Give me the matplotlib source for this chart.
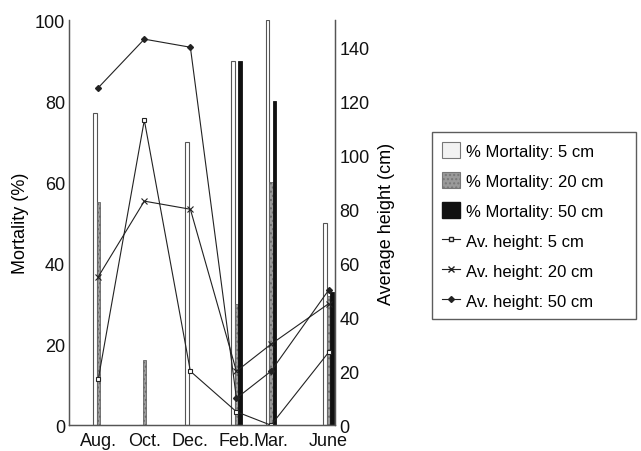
import numpy as np
import matplotlib
matplotlib.use("Agg")
import matplotlib.pyplot as plt
from matplotlib.patches import Patch
from matplotlib.lines import Line2D

plt.rcParams['font.family'] = ['Liberation Sans', 'DejaVu Sans']

# sampling dates, as months after August
months = [0, 2, 4, 6, 7.5, 10]
month_labels = ["Aug.", "Oct.", "Dec.", "Feb.", "Mar.", "June"]

# % mortality per planting size
mort_5 = [77, 0, 70, 90, 100, 50]
mort_20 = [55, 16, 0, 30, 60, 32]
mort_50 = [0, 0, 0, 90, 80, 33]

# average height (cm) per planting size
height_5 = [17, 113, 20, 5, 0, 27]
height_20 = [55, 83, 80, 20, 30, 45]
height_50 = [125, 143, 140, 10, 20, 50]

fig = plt.figure(figsize=(6.41, 4.52), dpi=100)
ax = fig.add_axes([0.108, 0.057, 0.415, 0.896])
ax2 = ax.twinx()

x = np.array(months)
w = 0.15
ink = "#222222"

ax.bar(x - w, mort_5, w, color="white", edgecolor="#555555", linewidth=0.8)
ax.bar(x, mort_20, w, color="#9a9a9a", edgecolor="#666666", linewidth=0.6, hatch="....")
ax.bar(x + w, mort_50, w, color="#111111", edgecolor="#111111", linewidth=0.6)

ax2.plot(x, height_5, color=ink, lw=0.8, marker="s", ms=3.5, mfc="white", mec=ink, mew=0.8)
ax2.plot(x, height_20, color=ink, lw=0.8, marker="x", ms=4, mec=ink, mew=0.8)
ax2.plot(x, height_50, color=ink, lw=0.8, marker="D", ms=3, mfc=ink, mec=ink)

ax.set_xlim(-1.26, 10.29)
ax.set_ylim(0, 100)
ax2.set_ylim(0, 150)
ax.set_yticks([0, 20, 40, 60, 80, 100])
ax2.set_yticks([0, 20, 40, 60, 80, 100, 120, 140])
ax.set_xticks(months)
ax.set_xticklabels(month_labels)

for a in (ax, ax2):
    a.spines['top'].set_visible(False)
    for s in ('left', 'right', 'bottom'):
        a.spines[s].set_color("#555555")
        a.spines[s].set_linewidth(0.9)
    a.tick_params(length=0, labelsize=13, pad=3, colors="#111111")
ax.tick_params(axis='x', pad=5)

ax.set_ylabel("Mortality (%)", fontsize=13, labelpad=4)
ax2.set_ylabel("Average height (cm)", fontsize=13, labelpad=6)

handles = [
    Patch(facecolor="#f2f2f2", edgecolor="#777777", linewidth=0.8),
    Patch(facecolor="#9a9a9a", edgecolor="#777777", linewidth=0.8, hatch="...."),
    Patch(facecolor="#111111", edgecolor="#111111"),
    Line2D([], [], color=ink, lw=0.8, marker="s", ms=3, mfc="white", mec=ink),
    Line2D([], [], color=ink, lw=0.8, marker="x", ms=4, mec=ink),
    Line2D([], [], color=ink, lw=0.8, marker="D", ms=3, mfc=ink, mec=ink),
]
labels = ["% Mortality: 5 cm", "% Mortality: 20 cm", "% Mortality: 50 cm",
          "Av. height: 5 cm", "Av. height: 20 cm", "Av. height: 50 cm"]
leg = fig.legend(handles, labels, loc="upper left",
                 bbox_to_anchor=(0.674, 0.29, 0.318, 0.416), mode="expand",
                 fontsize=12, frameon=True, fancybox=False, edgecolor="#333333",
                 handlelength=1.1, handleheight=1.1, handletextpad=0.35,
                 labelspacing=0.8, borderpad=0.6, borderaxespad=0)
leg.get_frame().set_linewidth(1.0)

fig.savefig("out.png", dpi=100)
